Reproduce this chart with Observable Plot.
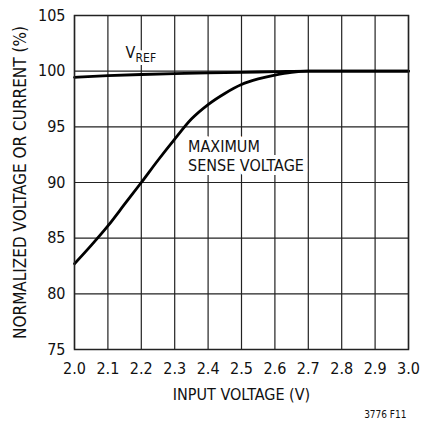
<!DOCTYPE html>
<html>
<head>
<meta charset="utf-8">
<script src="https://cdn.jsdelivr.net/npm/d3@7"></script>
<script src="https://cdn.jsdelivr.net/npm/@observablehq/plot@0.6"></script>
<style>
  html, body { margin: 0; padding: 0; background: #fff; }
  #chart svg { font-family: "DejaVu Sans Condensed", "Liberation Sans Narrow", sans-serif; font-stretch: condensed; }
</style>
</head>
<body>
<div id="chart"></div>
<script>
const xTicks = [2.0, 2.1, 2.2, 2.3, 2.4, 2.5, 2.6, 2.7, 2.8, 2.9, 3.0];
const yTicks = [75, 80, 85, 90, 95, 100, 105];

const vrefX = [2.0, 2.1, 2.2, 2.3, 2.4, 2.5, 2.6, 2.7, 2.8, 2.9, 3.0];
const vrefY = [99.45, 99.6, 99.7, 99.78, 99.85, 99.9, 99.95, 100, 100, 100, 100];

const senseX = [2.0, 2.05, 2.1, 2.15, 2.2, 2.25, 2.3, 2.35, 2.4, 2.45, 2.5, 2.55, 2.6, 2.65, 2.7, 2.8, 2.9, 3.0];
const senseY = [82.7, 84.35, 86.1, 88.05, 90.0, 92.0, 93.9, 95.7, 97.0, 98.0, 98.8, 99.3, 99.65, 99.9, 100, 100, 100, 100];

const vref = vrefX.map((x, i) => ({x, y: vrefY[i]}));
const sense = senseX.map((x, i) => ({x, y: senseY[i]}));

const chart = Plot.plot({
  width: 421,
  height: 427,
  marginLeft: 74,
  marginRight: 13,
  marginTop: 15,
  marginBottom: 78,
  style: {fontSize: "15px", color: "#111", background: "#fff"},
  x: {domain: [2.0, 3.0], ticks: xTicks, tickFormat: d3.format(".1f")},
  y: {domain: [75, 105], ticks: yTicks},
  marks: [
    Plot.gridX(xTicks, {stroke: "#222", strokeOpacity: 1, strokeWidth: 1.2}),
    Plot.gridY(yTicks, {stroke: "#222", strokeOpacity: 1, strokeWidth: 1.2}),
    Plot.text(["MAXIMUM\nSENSE VOLTAGE"], {x: [2.34], y: [92.4], textAnchor: "start", fontSize: 16, lineHeight: 1.15, fill: "#111", stroke: "white", strokeWidth: 8}),
    Plot.text(["V"], {x: [2.153], y: [101.6], textAnchor: "start", fontSize: 16, fill: "#111", stroke: "white", strokeWidth: 8}),
    Plot.text(["REF"], {x: [2.153], y: [101.6], dx: 10, dy: 5, textAnchor: "start", fontSize: 12, fill: "#111", stroke: "white", strokeWidth: 6}),
    Plot.line(vref, {x: "x", y: "y", stroke: "#000", strokeWidth: 2.8, curve: "monotone-x"}),
    Plot.line(sense, {x: "x", y: "y", stroke: "#000", strokeWidth: 2.8, curve: "monotone-x"}),
    Plot.frame({stroke: "#222", strokeWidth: 1.5}),
    Plot.axisX({ticks: xTicks, tickFormat: d3.format(".1f"), tickSize: 0, tickPadding: 13, fontSize: 16, label: null}),
    Plot.axisX({ticks: [], label: "INPUT VOLTAGE (V)", labelAnchor: "center", labelArrow: "none", labelOffset: 50, fontSize: 16}),
    Plot.axisY({ticks: yTicks, tickSize: 0, tickPadding: 9, fontSize: 16, label: null}),
    Plot.axisY({ticks: [], label: "NORMALIZED VOLTAGE OR CURRENT (%)", labelAnchor: "center", labelArrow: "none", labelOffset: 61, fontSize: 17}),
    Plot.text(["3776 F11"], {frameAnchor: "bottom-right", dx: -2, dy: 68, textAnchor: "end", fontSize: 10, fill: "#111"})
  ]
});
document.getElementById("chart").appendChild(chart);
</script>
</body>
</html>
